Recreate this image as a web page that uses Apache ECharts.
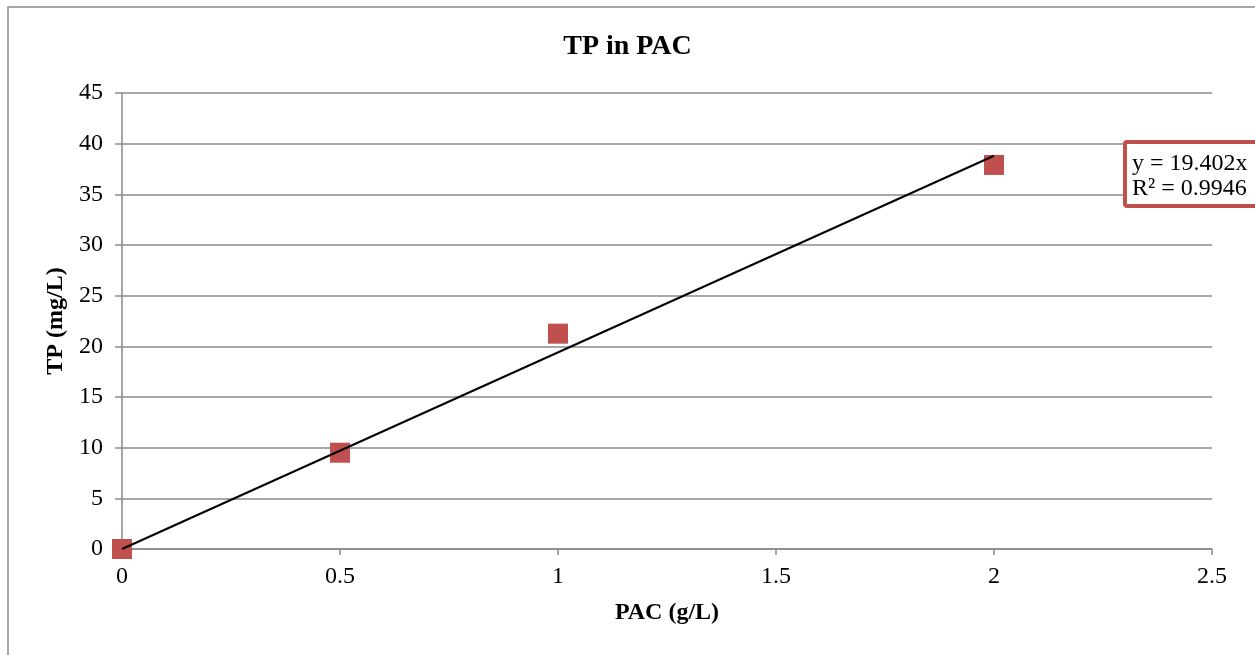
<!DOCTYPE html>
<html><head><meta charset="utf-8">
<script src="https://cdn.jsdelivr.net/npm/echarts@6/dist/echarts.min.js"></script>
<style>html,body{margin:0;padding:0;background:#fff}#c{width:1255px;height:655px}</style>
</head><body><div id="c"></div>
<script>
const pacValues = [0, 0.5, 1, 2];
const tpValues = [0, 9.5, 21.25, 37.9];
const trendSlope = 19.402;
const trendX = [0, 2];
const trendLabel = ['y = 19.402x', 'R² = 0.9946'];

const chart = echarts.init(document.getElementById('c'));
const font = '"Liberation Serif","Times New Roman",serif';
const gridColor = '#8a8a8a';
chart.setOption({
  backgroundColor: '#fff',
  animation: false,
  title: { text: 'TP in PAC', left: 'center', top: 28, textStyle: { fontFamily: font, fontSize: 28, fontWeight: 'bold', color: '#000' } },
  grid: { left: 122, right: 43, top: 93, bottom: 106 },
  xAxis: {
    type: 'value', min: 0, max: 2.5, interval: 0.5,
    name: 'PAC (g/L)', nameLocation: 'middle', nameGap: 52,
    nameTextStyle: { fontFamily: font, fontSize: 24, fontWeight: 'bold', color: '#000' },
    axisLine: { lineStyle: { color: gridColor, width: 1.5 } },
    axisTick: { show: true, length: 6, lineStyle: { color: gridColor, width: 1.5 } },
    axisLabel: { fontFamily: font, fontSize: 24, color: '#000', margin: 16 },
    splitLine: { show: false }
  },
  yAxis: {
    type: 'value', min: 0, max: 45, interval: 5,
    name: 'TP (mg/L)', nameLocation: 'middle', nameGap: 52,
    nameTextStyle: { fontFamily: font, fontSize: 24, fontWeight: 'bold', color: '#000' },
    axisLine: { show: true, lineStyle: { color: gridColor, width: 1.5 } },
    axisTick: { show: true, length: 7, lineStyle: { color: gridColor, width: 1.5 } },
    axisLabel: { fontFamily: font, fontSize: 24, color: '#000', margin: 19 },
    splitLine: { show: true, lineStyle: { color: gridColor, width: 1.5 } }
  },
  series: [
    {
      type: 'line', data: trendX.map(x => [x, trendSlope * x]),
      symbol: 'none', lineStyle: { color: '#000', width: 2 }, z: 3
    },
    {
      type: 'scatter', data: pacValues.map((x, i) => [x, tpValues[i]]),
      symbol: 'rect', symbolSize: 20, itemStyle: { color: '#c0504d', opacity: 1 }, z: 2
    }
  ],
  graphic: [
    { type: 'rect', shape: { x: 8, y: 7, width: 1260, height: 660 }, style: { fill: 'none', stroke: '#8a8a8a', lineWidth: 1.5 }, silent: true },
    { type: 'rect', shape: { x: 1125, y: 142, width: 135, height: 64, r: 2 }, style: { fill: '#fff', stroke: '#c0504d', lineWidth: 4 }, z: 10 },
    { type: 'text', x: 1132, y: 151, style: { text: trendLabel.join('\n'), font: '24px ' + font, fill: '#000', lineHeight: 25 }, z: 11 }
  ]
});
</script></body></html>
